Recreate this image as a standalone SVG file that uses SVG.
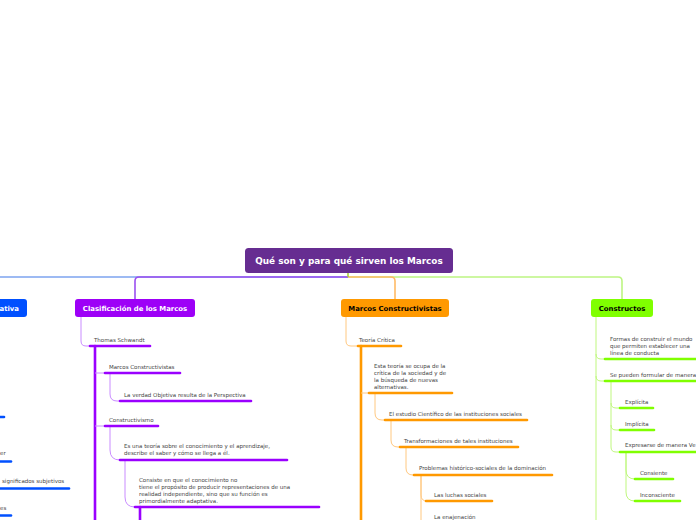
<svg xmlns="http://www.w3.org/2000/svg" width="696" height="520" viewBox="0 0 696 520">
<style>
.t{font-family:"DejaVu Sans","Verdana",sans-serif;font-size:5.5px;fill:#444}
.n{font-family:"DejaVu Sans","Verdana",sans-serif;font-size:6.9px;font-weight:bold;text-anchor:middle}
.thin{fill:none;stroke-width:1}
.thk{fill:none;stroke-width:2.6;stroke-linecap:round}
.pu{stroke:#9a00ff}.pul{stroke:#c98cff}
.or{stroke:#ff9900}.orl{stroke:#ffc880}
.gr{stroke:#80ff00}.grl{stroke:#bff77e}
.bl{stroke:#0050ff}
</style>
<rect width="696" height="520" fill="#ffffff"/>
<g id="connectors">
<path d="M348,277 H0" fill="none" stroke="#7ca3ef" stroke-width="1.6"/>
<path d="M348,277 H139 Q135,277 135,281 V299" fill="none" stroke="#9b4ff0" stroke-width="1.6"/>
<path d="M348,277 H618 Q622,277 622,281 V299" fill="none" stroke="#bdf582" stroke-width="1.6"/>
<path d="M348,277 H391 Q395,277 395,281 V299" fill="none" stroke="#ffbb66" stroke-width="1.6"/>
<path d="M348,273 V277" fill="none" stroke="#a8cc40" stroke-width="1.6"/>
<path class="thin pul" d="M81,317 V341 Q81,346 86,346 H89"/>
<path class="thk pu" d="M95,346 V520" stroke-width="2"/>
<path class="thin pul" d="M95,373 H104"/>
<path class="thin pul" d="M110,373 V394 Q110,401 117,401 H119"/>
<path class="thin pul" d="M95,426 H104"/>
<path class="thin pul" d="M110,426 V450 Q110,460 120,460"/>
<path class="thin pul" d="M125,460 V497 Q125,507 135,507"/>
<path class="thk pu" d="M140,507 V520" stroke-width="2"/>
<path class="thin orl" d="M346,317 V341 Q346,346 351,346 H358"/>
<path class="thk or" d="M361,346 V520" stroke-width="2"/>
<path class="thin orl" d="M361,393 H369"/>
<path class="thin orl" d="M375,393 V413 Q375,420 382,420 H385"/>
<path class="thin orl" d="M391,420 V440 Q391,447 398,447 H400"/>
<path class="thin orl" d="M406,447 V468 Q406,475 413,475 H414"/>
<path class="thin orl" d="M421,475 V495 Q421,501 427,501"/>
<path class="thin orl" d="M421,475 V520"/>
<path class="thin grl" d="M596,317 V520"/>
<path class="thin grl" d="M596,354 Q596,359 601,359 H605"/>
<path class="thin grl" d="M596,376 Q596,381 601,381 H605"/>
<path class="thin grl" d="M611,381 V447 Q611,452 616,452 H620"/>
<path class="thin grl" d="M611,403 Q611,408 616,408 H620"/>
<path class="thin grl" d="M611,425 Q611,430 616,430 H620"/>
<path class="thin grl" d="M626,452 V470 Q626,479 635,479"/>
<path class="thin grl" d="M626,452 V492 Q626,501 635,501"/>
</g>
<g id="root">
<rect x="245" y="248" width="208" height="25" rx="3.5" fill="#662d91"/>
<text class="n" x="349" y="264" style="font-size:8.9px" fill="#ffffff">Qué son y para qué sirven los Marcos</text>
</g>
<g id="node-left">
<rect x="-20" y="299" width="47" height="18" rx="3" fill="#0050ff"/>
<text class="n" x="19" y="311" style="text-anchor:end" fill="#ffffff">ativa</text>
</g>
<g id="left-items">
<path class="thk bl" d="M0,417 H4"/>
<text class="t" x="0" y="455">er</text>
<path class="thk bl" d="M0,461.5 H11"/>
<text class="t" x="2" y="483">significados subjetivos</text>
<path class="thk bl" d="M0,488.5 H69"/>
<text class="t" x="0" y="510">es</text>
<path class="thk bl" d="M0,515.5 H11"/>
</g>
<g id="node-clasificacion">
<rect x="75" y="299" width="120" height="18" rx="3" fill="#9d00f7"/>
<text class="n" x="135" y="311" fill="#ffffff">Clasificación de los Marcos</text>
</g>
<g id="item-schwandt">
<text class="t" x="94" y="342">Thomas Schwandt</text>
<path class="thk pu" d="M90,346 H150"/>
</g>
<g id="item-marcos-const">
<text class="t" x="109" y="369">Marcos Constructivistas</text>
<path class="thk pu" d="M105,373 H180"/>
</g>
<g id="item-verdad">
<text class="t" x="124" y="396.5">La verdad Objetiva resulta de la Perspectiva</text>
<path class="thk pu" d="M120,401 H251"/>
</g>
<g id="item-constructivismo">
<text class="t" x="109" y="421.5">Constructivismo</text>
<path class="thk pu" d="M105,426 H158"/>
</g>
<g id="item-teoria">
<text class="t" x="124" y="448">Es una teoría sobre el conocimiento y el aprendizaje,</text>
<text class="t" x="124" y="455">describe el saber y cómo se llega a él.</text>
<path class="thk pu" d="M120,460 H287"/>
</g>
<g id="item-consiste">
<text class="t" x="139" y="482">Consiste en que el conocimiento no</text>
<text class="t" x="139" y="489">tiene el propósito de producir representaciones de una</text>
<text class="t" x="139" y="496">realidad independiente, sino que su función es</text>
<text class="t" x="139" y="503">primordialmente adaptativa.</text>
<path class="thk pu" d="M135,507 H319"/>
</g>
<g id="node-marcos">
<rect x="341" y="299" width="108" height="18" rx="3" fill="#ff9900"/>
<text class="n" x="395" y="311" fill="#000000">Marcos Constructivistas</text>
</g>
<g id="item-critica">
<text class="t" x="359" y="342">Teoría Crítica</text>
<path class="thk or" d="M358,346 H401"/>
</g>
<g id="item-esta">
<text class="t" x="374" y="368">Esta teoría se ocupa de la</text>
<text class="t" x="374" y="375">crítica de la sociedad y de</text>
<text class="t" x="374" y="382">la búsqueda de nuevas</text>
<text class="t" x="374" y="389">alternativas.</text>
<path class="thk or" d="M369,393 H452"/>
</g>
<g id="item-estudio">
<text class="t" x="389" y="415.5">El estudio Científico de las instituciones sociales</text>
<path class="thk or" d="M385,420 H527"/>
</g>
<g id="item-transf">
<text class="t" x="404" y="442.5">Transformaciones de tales instituciones</text>
<path class="thk or" d="M400,447 H518"/>
</g>
<g id="item-problemas">
<text class="t" x="419" y="470">Problemas histórico-sociales de la dominación</text>
<path class="thk or" d="M414,475 H552"/>
</g>
<g id="item-luchas">
<text class="t" x="434" y="496.5">Las luchas sociales</text>
<path class="thk or" d="M426,501 H492"/>
</g>
<g id="item-enajenacion">
<text class="t" x="434" y="519">La enajenación</text>
</g>
<g id="node-constructos">
<rect x="591" y="299" width="62" height="18" rx="3" fill="#80ff00"/>
<text class="n" x="622" y="311" fill="#000000">Constructos</text>
</g>
<g id="item-formas">
<text class="t" x="610" y="341">Formas de construir el mundo</text>
<text class="t" x="610" y="348">que permiten establecer una</text>
<text class="t" x="610" y="355">línea de conducta</text>
<path class="thk gr" d="M605,359 H698"/>
</g>
<g id="item-formular">
<text class="t" x="610" y="376.5">Se pueden formular de manera</text>
<path class="thk gr" d="M605,381 H698"/>
</g>
<g id="item-explicita">
<text class="t" x="625" y="403.5">Explícita</text>
<path class="thk gr" d="M620,408 H653"/>
</g>
<g id="item-implicita">
<text class="t" x="625" y="425.5">Implícita</text>
<path class="thk gr" d="M620,430 H654"/>
</g>
<g id="item-expresarse">
<text class="t" x="625" y="447">Expresarse de manera Ve</text>
<path class="thk gr" d="M620,452 H698"/>
</g>
<g id="item-consiente">
<text class="t" x="640" y="474.5">Consiente</text>
<path class="thk gr" d="M635,479 H673"/>
</g>
<g id="item-inconsciente">
<text class="t" x="640" y="496.5">Inconsciente</text>
<path class="thk gr" d="M635,501 H680"/>
</g>
</svg>
